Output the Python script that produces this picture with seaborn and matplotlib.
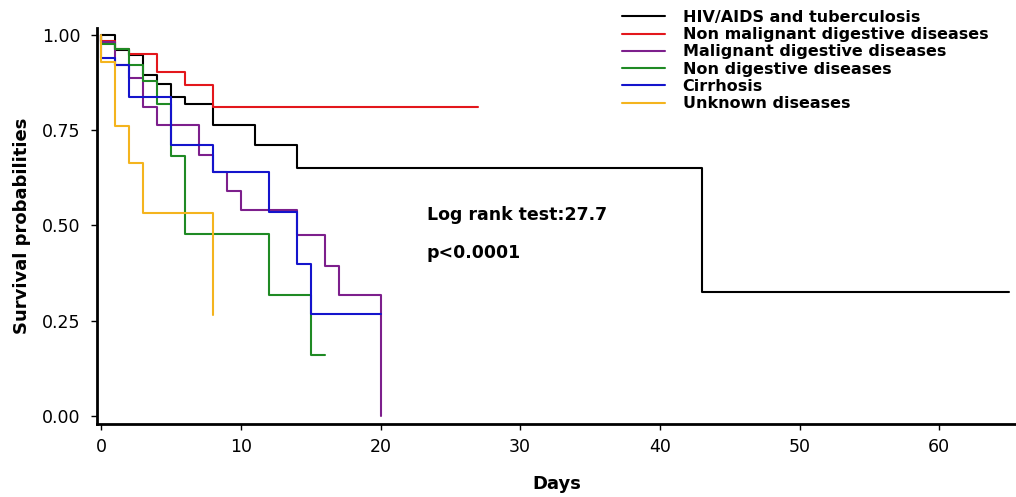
import numpy as np
import pandas as pd
import matplotlib
matplotlib.use("Agg")
import matplotlib.pyplot as plt
from matplotlib.lines import Line2D
import seaborn as sns

groups = ["HIV/AIDS and tuberculosis", "Non malignant digestive diseases",
          "Malignant digestive diseases", "Non digestive diseases",
          "Cirrhosis", "Unknown diseases"]
colors = ["#000000", "#e3171c", "#7d1f8c", "#1f8a24", "#1414cc", "#f4b41e"]

hiv_days = [0, 1, 2, 3, 4, 5, 6, 8, 11, 14, 43, 65]
hiv_surv = [1.0, 0.96, 0.948, 0.895, 0.87, 0.836, 0.818, 0.763, 0.71, 0.65, 0.325, 0.325]

nonmal_days = [0, 0, 1, 2, 4, 6, 8, 27]
nonmal_surv = [1.0, 0.985, 0.963, 0.949, 0.902, 0.869, 0.812, 0.812]

mal_days = [0, 0, 1, 2, 3, 4, 7, 8, 9, 10, 14, 16, 17, 20, 20]
mal_surv = [1.0, 0.98, 0.92, 0.888, 0.812, 0.763, 0.685, 0.64, 0.59, 0.54, 0.474, 0.394, 0.318, 0.318, 0.0]

nondig_days = [0, 0, 1, 2, 3, 4, 5, 6, 12, 15, 16]
nondig_surv = [1.0, 0.975, 0.962, 0.92, 0.878, 0.818, 0.683, 0.477, 0.318, 0.16, 0.16]

cirr_days = [0, 0, 1, 2, 5, 8, 12, 14, 15, 20]
cirr_surv = [1.0, 0.94, 0.922, 0.838, 0.711, 0.64, 0.536, 0.40, 0.268, 0.268]

unk_days = [0, 0, 1, 2, 3, 8, 8]
unk_surv = [1.0, 0.93, 0.76, 0.663, 0.532, 0.532, 0.265]

x_ticks = [0, 10, 20, 30, 40, 50, 60]
y_ticks = [0.0, 0.25, 0.5, 0.75, 1.0]
y_ticklabels = ["0.00", "0.25", "0.50", "0.75", "1.00"]

series = [(hiv_days, hiv_surv), (nonmal_days, nonmal_surv), (mal_days, mal_surv),
          (nondig_days, nondig_surv), (cirr_days, cirr_surv), (unk_days, unk_surv)]

frames = []
for g, (d, s) in zip(groups, series):
    frames.append(pd.DataFrame({"Days": d, "Survival": s, "group": g}))
df = pd.concat(frames, ignore_index=True)

sns.set_style("ticks")
plt.rcParams["font.family"] = ["DejaVu Sans"]
plt.rcParams["text.color"] = "black"
plt.rcParams["axes.labelcolor"] = "black"
plt.rcParams["xtick.color"] = "black"
plt.rcParams["ytick.color"] = "black"

fig = plt.figure(figsize=(10.16, 4.97), dpi=100)
ax = fig.add_axes([97/1016, 1 - 424/497, 1 - 97/1016, (424 - 28)/497])

palette = dict(zip(groups, colors))
sns.lineplot(data=df, x="Days", y="Survival", hue="group", hue_order=groups,
             palette=palette, estimator=None, sort=False, drawstyle="steps-post",
             linewidth=1.5, ax=ax, legend=False)

ax.set_xlim(-0.3, 65.5)
ax.set_ylim(-0.021, 1.018)
ax.set_xticks(x_ticks)
ax.set_xticklabels([str(t) for t in x_ticks], fontsize=12.5)
ax.set_yticks(y_ticks)
ax.set_yticklabels(y_ticklabels, fontsize=12.5)
ax.tick_params(axis="both", direction="out", length=4, width=1, colors="black")
ax.tick_params(axis="y", pad=8)
ax.tick_params(axis="x", pad=6)

for sp in ["top", "right"]:
    ax.spines[sp].set_visible(False)
for sp in ["left", "bottom"]:
    ax.spines[sp].set_linewidth(2.0)
    ax.spines[sp].set_color("black")

ax.set_xlabel("Days", fontsize=13, fontweight="bold", labelpad=14)
ax.set_ylabel("Survival probabilities", fontsize=13, fontweight="bold", labelpad=8)

ax.text(23.3, 0.528, "Log rank test:27.7", fontsize=12.5, fontweight="bold",
        ha="left", va="center")
ax.text(23.3, 0.428, "p<0.0001", fontsize=12.5, fontweight="bold",
        ha="left", va="center")

handles = [Line2D([0], [0], color=c, lw=1.5) for c in colors]
leg = ax.legend(handles, groups, loc="upper left",
                bbox_to_anchor=(614/1016, 1 - 2/497), bbox_transform=fig.transFigure,
                frameon=False, borderpad=0, handlelength=2.7, handletextpad=1.1,
                labelspacing=0.14, prop={"size": 11.5, "weight": "bold"})

fig.savefig("out.png", dpi=100, facecolor="white")
